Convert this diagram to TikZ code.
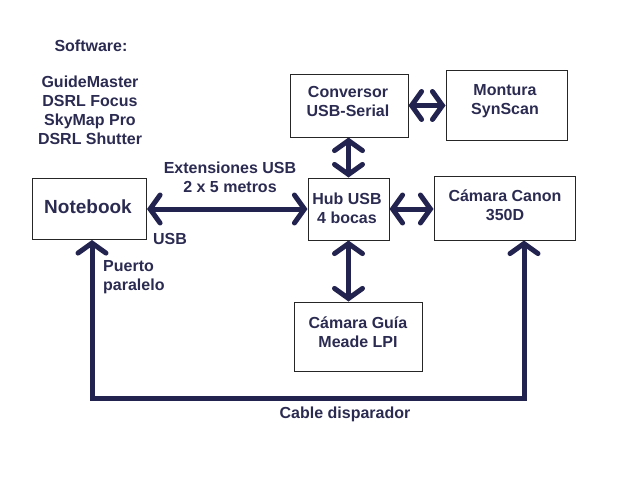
\documentclass[tikz,border=0pt]{standalone}
\usepackage{fontspec}
\setmainfont{Liberation Sans}
\usetikzlibrary{arrows.meta,calc}
\definecolor{txt}{HTML}{2B2B52}
\definecolor{arr}{HTML}{23234F}
\begin{document}
\begin{tikzpicture}[x=1pt,y=-1pt,
  box/.style={draw=black!85,line width=1pt,inner sep=0pt,rectangle},
  lbl/.style={text=txt,font=\bfseries\fontsize{16}{19}\selectfont,align=center,inner sep=0pt},
  conn/.style={draw=arr,line width=5pt,line cap=round,line join=miter,
    {Straight Barb[length=10pt,width=28pt,line cap=round]}-{Straight Barb[length=10pt,width=28pt,line cap=round]}}]
\useasboundingbox (0,0) rectangle (640,480);
% boxes
\node[box,minimum width=114pt,minimum height=61pt] (nb) at (89.5,209) {};
\node[box,minimum width=118pt,minimum height=63pt] (conv) at (349,105.5) {};
\node[box,minimum width=121pt,minimum height=70pt] (mont) at (506.5,105) {};
\node[box,minimum width=81pt,minimum height=62pt] (hub) at (348.5,209) {};
\node[box,minimum width=141pt,minimum height=64pt] (canon) at (504.5,208) {};
\node[box,minimum width=128pt,minimum height=69pt] (guia) at (358,336.5) {};
% labels
\node[lbl] (sw) at (91,46) {Software:};
\node[lbl] (swlist) at (90,110) {GuideMaster\\DSRL Focus\\SkyMap Pro\\DSRL Shutter};
\node[lbl] (ext) at (230,177) {Extensiones USB\\2 x 5 metros};
\node[lbl] (usb) at (170,239) {USB};
\node[lbl,align=left,anchor=west] (pp) at (103,277) {Puerto\\paralelo};
\node[lbl,font=\bfseries\fontsize{19}{22}\selectfont] (nbt) at (88,207) {Notebook};
\node[lbl] (convt) at (348,101) {Conversor\\USB-Serial};
\node[lbl] (montt) at (505,101) {Montura\\SynScan};
\node[lbl] (hubt) at (347,208) {Hub USB\\4 bocas};
\node[lbl] (canont) at (505,205) {Cámara Canon\\350D};
\node[lbl] (guiat) at (358,332) {Cámara Guía\\Meade LPI};
\node[lbl] (cable) at (345,414) {Cable disparador};
% connectors
\coordinate (c1) at (92,398);
\coordinate (c2) at (524,398);
\draw[conn] (nb.east) -- (hub.west);
\draw[conn] (conv.east) -- (conv.east -| mont.west);
\draw[conn] (conv.south -| hub.north) -- (hub.north);
\draw[conn] (hub.east) -- (hub.east -| canon.west);
\draw[conn] (hub.south) -- (hub.south |- guia.north);
\draw[conn] (c1 |- nb.south) -- (c1) -- (c2) -- (c2 |- canon.south);
\end{tikzpicture}
\end{document}
